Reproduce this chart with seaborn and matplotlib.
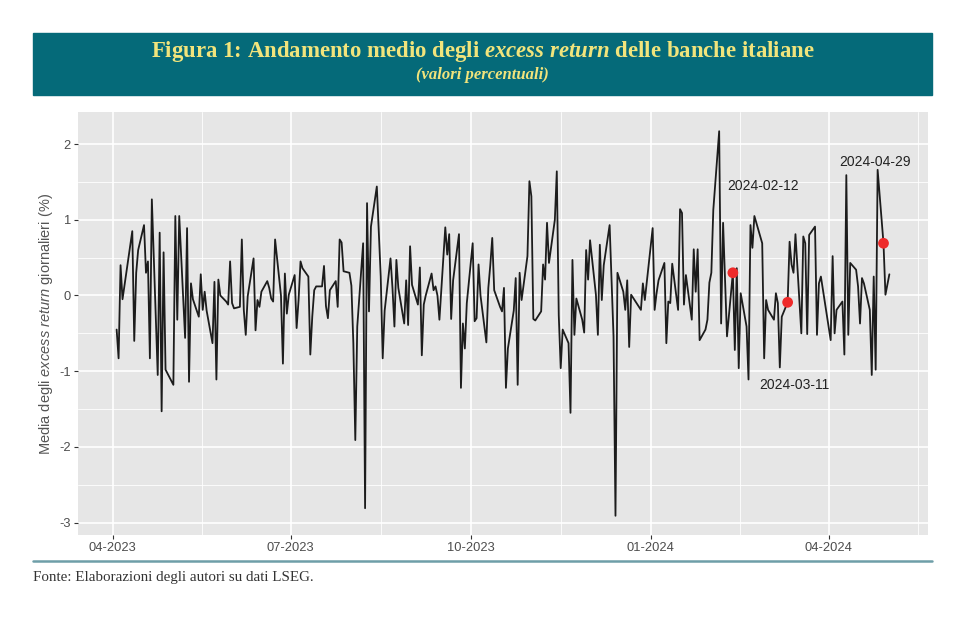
import pandas as pd
import matplotlib
matplotlib.use("Agg")
import matplotlib.pyplot as plt
import matplotlib.dates as mdates
from matplotlib.patches import Rectangle
from matplotlib.lines import Line2D
import seaborn as sns

# ---------------- data: daily average excess return of Italian banks (%) ----------------
holidays = ["2023-04-07", "2023-04-10", "2023-05-01", "2023-08-15", "2023-12-25",
            "2023-12-26", "2024-01-01", "2024-03-29", "2024-04-01", "2024-05-01"]

apr23 = [-0.45, -0.83, 0.40, -0.05, 0.85, -0.60, 0.30, 0.60, 0.93, 0.30, 0.45, -0.83,
         1.27, -1.05, 0.83, -1.53, 0.57, -0.98]
may23 = [-1.18, 1.05, -0.32, 1.05, -0.56, 0.89, -1.14, 0.16, -0.05, -0.28, 0.28, -0.19,
         0.05, -0.20, -0.63, 0.18, -1.11, 0.21, 0.00, -0.08, -0.12, 0.45]
jun23 = [-0.10, -0.17, -0.15, 0.74, -0.19, -0.52, -0.01, 0.49, -0.46, -0.06, -0.15, 0.05,
         0.19, 0.10, -0.04, -0.08, 0.74, 0.00, -0.90, 0.29, -0.24, 0.01]
jul23 = [0.27, -0.43, -0.06, 0.45, 0.36, 0.25, -0.78, -0.28, 0.07, 0.12, 0.12, 0.39,
         -0.14, -0.30, 0.07, 0.19, -0.15, 0.74, 0.70, 0.32, 0.30]
aug23 = [0.13, -0.63, -1.91, -0.41, 0.69, -2.81, 1.22, -0.21, 0.91, 1.44, 0.25, -0.83,
         -0.20, 0.49, 0.10, -0.41, 0.47, 0.10, -0.37, 0.20, -0.39, 0.65]
sep23 = [0.14, -0.12, 0.37, -0.79, -0.12, 0.00, 0.29, 0.07, 0.12, 0.00, -0.32, 0.90,
         0.54, 0.81, -0.31, 0.20, 0.81, -1.22, -0.37, -0.70, -0.10]
oct23 = [0.69, -0.34, -0.30, 0.41, 0.00, -0.62, 0.10, 0.40, 0.76, 0.07, -0.15, -0.21,
         0.10, -1.22, -0.70, -0.20, 0.23, -1.18, 0.30, -0.06, 0.52, 1.51]
nov23 = [1.31, -0.31, -0.33, -0.21, 0.41, 0.21, 0.96, 0.43, 1.00, 1.64, -0.26, -0.96,
         -0.45, -0.63, -1.55, 0.47, -0.52, -0.04, -0.32, -0.49, 0.60, 0.21]
dec23 = [0.73, 0.01, -0.52, 0.67, -0.06, 0.40, 0.93, 0.20, -0.54, -2.91, 0.30, 0.05,
         -0.19, 0.20, -0.68, 0.01, -0.19, 0.16, -0.06]
jan24 = [0.89, -0.19, 0.03, 0.20, 0.43, -0.63, -0.08, -0.10, 0.42, -0.19, 1.14, 1.09,
         -0.12, 0.27, -0.32, 0.61, 0.05, 0.61, -0.59, -0.45, -0.32, 0.17]
feb24 = [0.30, 1.13, 2.17, -0.37, 0.96, 0.20, -0.54, 0.30, -0.72, 0.36, -0.96, 0.03,
         -0.41, -1.11, 0.93, 0.63, 1.05, 0.78, 0.69, -0.83, -0.06]
mar24 = [-0.19, -0.32, 0.03, -0.10, -0.95, -0.28, -0.09, 0.71, 0.41, 0.30, 0.81, -0.50,
         0.78, 0.69, -0.51, 0.80, 0.91, -0.52, 0.16, 0.25]
apr24 = [-0.59, 0.52, -0.50, -0.19, -0.08, -0.78, 1.59, -0.52, 0.43, 0.34, 0.12, -0.37,
         0.23, 0.16, -0.19, -1.05, 0.25, -0.98, 1.66, 0.69, 0.01]
may24 = [0.28]

highlight_dates = ["2024-02-12", "2024-03-11", "2024-04-29"]
x_breaks = ["2023-04-01", "2023-07-01", "2023-10-01", "2024-01-01", "2024-04-01"]
y_breaks = [-3, -2, -1, 0, 1, 2]

values = (apr23 + may23 + jun23 + jul23 + aug23 + sep23 + oct23 + nov23 + dec23
          + jan24 + feb24 + mar24 + apr24 + may24)
dates = pd.bdate_range("2023-04-03", "2024-05-02", freq="C", holidays=holidays)
df = pd.DataFrame({"date": dates, "ret": values})
hl = df[df["date"].isin(pd.to_datetime(highlight_dates))]

# ---------------- style -----------------
sns.set_theme(style="darkgrid", rc={"axes.facecolor": "#e6e6e6", "grid.color": "white"})
plt.rcParams["font.family"] = ["Liberation Sans", "DejaVu Sans"]
plt.rcParams["axes.unicode_minus"] = False
plt.rcParams["mathtext.fontset"] = "custom"
plt.rcParams["mathtext.rm"] = "Liberation Sans"
plt.rcParams["mathtext.it"] = "Liberation Sans:italic"
plt.rcParams["mathtext.bfit"] = "Liberation Serif:bold:italic"

W, H = 962, 622
fig = plt.figure(figsize=(W / 100, H / 100), dpi=100)
fig.patch.set_facecolor("white")
ax = fig.add_axes([78 / W, 1 - 535 / H, (928 - 78) / W, (535 - 112) / H])

sns.lineplot(data=df, x="date", y="ret", ax=ax, color="#1c1c1c", lw=1.3)
sns.scatterplot(data=hl, x="date", y="ret", ax=ax, color="#ee2a2a", s=60,
                edgecolor="none", zorder=5)

# labels (repelled like ggrepel)
offsets = [(30, 87), (7, -83), (-8, 81)]
for (_, r), off in zip(hl.iterrows(), offsets):
    ax.annotate(r["date"].strftime("%Y-%m-%d"), xy=(r["date"], r["ret"]),
                xytext=off, textcoords="offset pixels", ha="center", va="center",
                fontsize=10, color="#222222")

# axes
major = pd.to_datetime(x_breaks)
minor = major[:-1] + (major[1:] - major[:-1]) / 2
minor = minor.append(pd.DatetimeIndex([major[-1] + (major[1] - major[0]) / 2]))
ax.set_xticks(major)
ax.set_xticks(minor, minor=True)
ax.xaxis.set_major_formatter(mdates.DateFormatter("%m-%Y"))
ax.set_yticks(y_breaks)
ax.set_yticks([b + 0.5 for b in y_breaks[:-1]], minor=True)
ax.margins(x=0.05, y=0.05)

ax.grid(which="major", color="white", lw=1.2)
ax.grid(which="minor", color="white", lw=0.6)
for s in ax.spines.values():
    s.set_visible(False)
ax.tick_params(which="major", length=3, width=0.8, color="#333333",
               labelcolor="#4d4d4d", labelsize=9.3, pad=2, bottom=True, left=True)
ax.tick_params(which="minor", length=0)
ax.set_xlabel("")
ax.set_ylabel(r"Media degli $\mathit{excess\ return}$ giornalieri (%)", fontsize=10.5,
              color="#555555")
ax.yaxis.set_label_coords(-0.027, 0.5)

# banner title
fig.add_artist(Rectangle((33 / W, 1 - 95 / H), (932 - 33) / W, 62 / H,
                         transform=fig.transFigure, color="#056a79", zorder=0))
fig.text(482.5 / W, 1 - 52 / H,
         r"Figura 1: Andamento medio degli $\mathbfit{excess\ return}$ delle banche italiane",
         ha="center", va="center", fontfamily="Liberation Serif", fontweight="bold",
         fontsize=16.4, color="#f1e47c")
fig.text(482.5 / W, 1 - 75 / H, "(valori percentuali)", ha="center", va="center",
         fontfamily="Liberation Serif", fontstyle="italic", fontweight="bold",
         fontsize=12, color="#f1e47c")

# footer
fig.add_artist(Line2D([33 / W, 932 / W], [1 - 561 / H] * 2, transform=fig.transFigure,
                      color="#6e9ea8", lw=1.8))
fig.text(33 / W, 1 - 578 / H, "Fonte: Elaborazioni degli autori su dati LSEG.",
         ha="left", va="center", fontfamily="Liberation Serif", fontsize=10.8,
         color="#333333")

fig.savefig("out.png", dpi=100)
